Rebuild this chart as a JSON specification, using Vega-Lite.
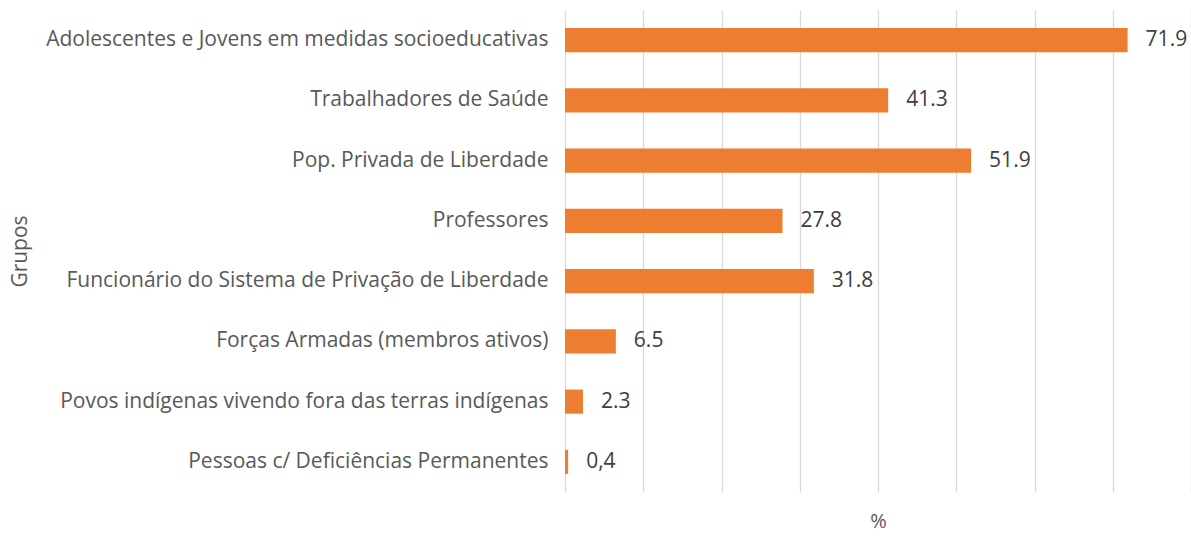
{
  "$schema": "https://vega.github.io/schema/vega-lite/v6.json",
  "autosize": "none",
  "padding": {"left": 565, "top": 10, "right": 0, "bottom": 44},
  "width": 626,
  "height": 482,
  "background": "white",
  "config": {
    "view": {"stroke": null},
    "font": "Open Sans",
    "axis": {"labelFont": "Open Sans", "titleFont": "Open Sans", "labelColor": "#595959", "titleColor": "#595959"}
  },
  "data": {
    "values": [
      {"grupo": "Adolescentes e Jovens em medidas socioeducativas", "pct": 71.9, "label": "71.9"},
      {"grupo": "Trabalhadores de Saúde", "pct": 41.3, "label": "41.3"},
      {"grupo": "Pop. Privada de Liberdade", "pct": 51.9, "label": "51.9"},
      {"grupo": "Professores", "pct": 27.8, "label": "27.8"},
      {"grupo": "Funcionário do Sistema de Privação de Liberdade", "pct": 31.8, "label": "31.8"},
      {"grupo": "Forças Armadas (membros ativos)", "pct": 6.5, "label": "6.5"},
      {"grupo": "Povos indígenas vivendo fora das terras indígenas", "pct": 2.3, "label": "2.3"},
      {"grupo": "Pessoas c/ Deficiências Permanentes", "pct": 0.4, "label": "0,4"}
    ]
  },
  "encoding": {
    "y": {
      "field": "grupo", "type": "nominal", "sort": null,
      "scale": {"paddingInner": 0.6, "paddingOuter": 0.3},
      "axis": {
        "title": "Grupos", "titleFontSize": 21, "titleFontWeight": "normal",
        "titleAngle": -90, "titleX": -545, "titleY": 241, "titleAlign": "center", "titleBaseline": "middle",
        "labelFontSize": 21, "labelPadding": 17, "ticks": false, "domain": false, "labelLimit": 600
      }
    }
  },
  "layer": [
    {
      "mark": {"type": "bar", "color": "#ED7D31"},
      "encoding": {
        "x": {
          "field": "pct", "type": "quantitative",
          "scale": {"domain": [0, 80], "nice": false},
          "axis": {
            "title": "%", "titleFontSize": 20, "titleFontWeight": "normal", "titlePadding": 19,
            "labels": false, "ticks": false, "domain": false,
            "grid": true, "gridColor": "#D9D9D9", "gridWidth": 1.3,
            "values": [0, 10, 20, 30, 40, 50, 60, 70, 80]
          }
        }
      }
    },
    {
      "mark": {"type": "text", "align": "left", "baseline": "middle", "dx": 18, "fontSize": 21, "color": "#404040"},
      "encoding": {
        "x": {"field": "pct", "type": "quantitative"},
        "text": {"field": "label"}
      }
    }
  ]
}
